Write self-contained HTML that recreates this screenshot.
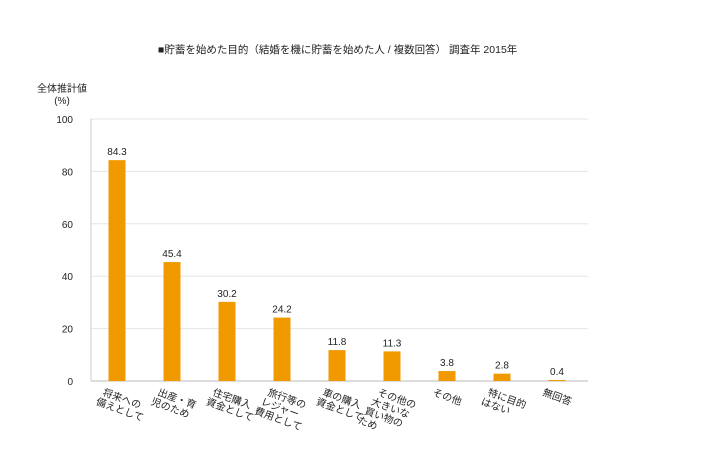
<!DOCTYPE html>
<html><head><meta charset="utf-8"><style>
body{margin:0;background:#fff;}
svg{display:block;font-family:"Liberation Sans","Noto Sans CJK JP",sans-serif;}
</style></head><body>
<svg id="chart" width="720" height="468">
<text x="158" y="53" font-size="10.5" fill="#222">■貯蓄を始めた目的（結婚を機に貯蓄を始めた人 / 複数回答） 調査年 2015年</text>
<text x="62" y="92" font-size="10" fill="#222" text-anchor="middle">全体推計値</text>
<text x="62" y="104" font-size="10" fill="#222" text-anchor="middle">(%)</text>
<g id="grid"></g><g id="bars"></g><g id="xlabels"></g>
</svg>
<script>
const categories=[["将来への","備えとして"],["出産・育","児のため"],["住宅購入","資金として"],["旅行等の","レジャー","費用として"],["車の購入","資金として"],["その他の","大きいな","買い物の","ため"],["その他"],["特に目的","はない"],["無回答"]];
const values=[84.3,45.4,30.2,24.2,11.8,11.3,3.8,2.8,0.4];
const valueLabels=["84.3","45.4","30.2","24.2","11.8","11.3","3.8","2.8","0.4"];
const yTicks=[0,20,40,60,80,100];
const NS="http://www.w3.org/2000/svg";
const x0=91,x1=588,yb=381,yt=119,step=55,bw=17;
const y=v=>yb-(yb-yt)*v/100;
const xc=i=>117+i*step;
function mk(t,a,p){const e=document.createElementNS(NS,t);for(const k in a)e.setAttribute(k,a[k]);p.appendChild(e);return e;}
const grid=document.getElementById('grid');
yTicks.forEach(t=>{
 const l=mk('line',{x1:x0,x2:x1,y1:y(t),y2:y(t),stroke:t===0?'#bbb':'#e6e6e6','stroke-width':1},grid);
 
 
 const tx=mk('text',{x:73,y:y(t)+4,'font-size':10,fill:'#222','text-anchor':'end'},grid);
 tx.textContent=t;
 
 
});
const ax=mk('line',{x1:x0,x2:x0,y1:yt,y2:yb,stroke:'#ccc'},grid);


const bars=document.getElementById('bars'),xl=document.getElementById('xlabels');
values.forEach((v,i)=>{
 const r=mk('rect',{x:xc(i)-bw/2,y:y(v),width:bw,height:yb-y(v),fill:'#f09a00'},bars);
 
 
 const t=mk('text',{x:xc(i),y:y(v)-5,'font-size':10,fill:'#222','text-anchor':'middle'},bars);
 t.textContent=valueLabels[i];
 
 
 const g=mk('g',{transform:`translate(${xc(i)-15},${yb+14}) rotate(20)`},xl);
 
 
 categories[i].forEach((s,j)=>{const tt=mk('text',{x:-j*3,y:j*11,'font-size':10,fill:'#222'},g);tt.textContent=s;});
});
</script>
</body></html>
